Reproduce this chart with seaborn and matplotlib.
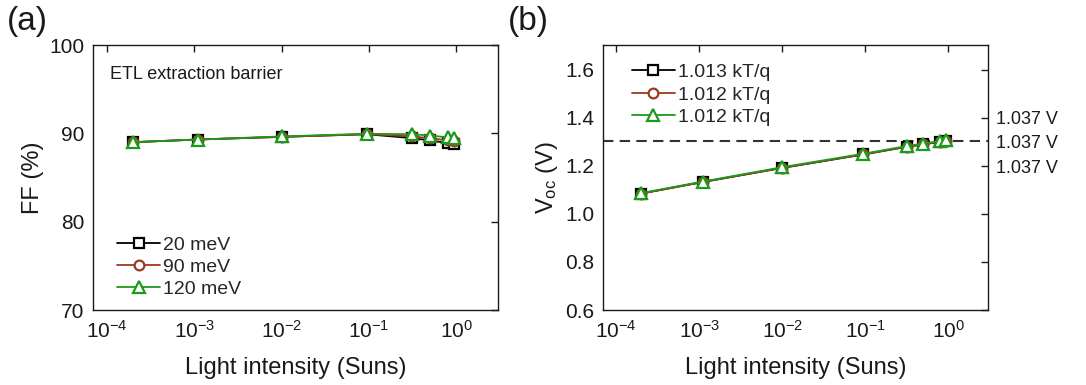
import numpy as np
import pandas as pd
import matplotlib
matplotlib.use("Agg")
import matplotlib.pyplot as plt
import seaborn as sns

sns.set_theme(style="white")
plt.rcParams['font.family'] = ['Liberation Sans', 'DejaVu Sans']
plt.rcParams['mathtext.fontset'] = 'custom'
plt.rcParams['mathtext.rm'] = 'Liberation Sans'
plt.rcParams['mathtext.it'] = 'Liberation Sans'
plt.rcParams['axes.linewidth'] = 1.0

intensity = [2e-4, 1.1e-3, 1e-2, 0.095, 0.316, 0.5, 0.8, 0.95]

ff_20 = [89.0, 89.3, 89.6, 89.9, 89.45, 89.2, 88.9, 88.75]
ff_90 = [89.0, 89.3, 89.6, 89.9, 89.65, 89.45, 89.2, 89.1]
ff_120 = [89.0, 89.3, 89.65, 89.95, 89.9, 89.75, 89.55, 89.5]

voc_20 = [1.085, 1.133, 1.192, 1.248, 1.280, 1.290, 1.301, 1.305]
voc_90 = [1.085, 1.133, 1.192, 1.248, 1.280, 1.290, 1.301, 1.305]
voc_120 = [1.087, 1.135, 1.195, 1.251, 1.283, 1.293, 1.304, 1.308]

ff_labels = ["20 meV", "90 meV", "120 meV"]
voc_labels = ["1.013 kT/q", "1.012 kT/q", "1.012 kT/q"]
voc_right_labels = ["1.037 V", "1.037 V", "1.037 V"]
voc_right_levels = [1.395, 1.295, 1.19]
dashed_level = 1.306

colors = ["#000000", "#9a3a1e", "#1c9a1c"]
markers = ["s", "o", "^"]
TXT = "#1a1a1a"

fig = plt.figure(figsize=(10.86, 3.85), dpi=100)
ax1 = fig.add_axes([0.0856, 0.1948, 0.373, 0.6883])
ax2 = fig.add_axes([0.5552, 0.1948, 0.3546, 0.6883])

for ax, series, labels in [(ax1, [ff_20, ff_90, ff_120], ff_labels),
                           (ax2, [voc_20, voc_90, voc_120], voc_labels)]:
    for ys, lab, c, m in zip(series, labels, colors, markers):
        sns.lineplot(x=intensity, y=ys, ax=ax, color=c, marker=m,
                     markersize=7 if m != "^" else 9, markerfacecolor="white",
                     markeredgecolor=c, markeredgewidth=1.6, linewidth=1.3,
                     label=lab)
    ax.set_xscale("log")
    ax.set_xlim(10**-4.16, 10**0.48)
    ax.set_xticks([1e-4, 1e-3, 1e-2, 1e-1, 1e0])
    ax.set_xticklabels([r"10$^{-4}$", r"10$^{-3}$", r"10$^{-2}$", r"10$^{-1}$", r"10$^{0}$"])
    ax.minorticks_off()
    ax.tick_params(direction="in", top=True, right=True, length=5, width=1,
                   labelsize=15, pad=6, colors=TXT)
    ax.tick_params(axis="x", pad=7)
    for s in ax.spines.values():
        s.set_color(TXT)
    ax.set_xlabel("Light intensity (Suns)", fontsize=17, labelpad=11, color=TXT)

ax1.set_ylim(70, 100)
ax1.set_yticks([70, 80, 90, 100])
ax1.set_ylabel("FF (%)", fontsize=17, labelpad=4, color=TXT)
ax1.text(0.042, 0.887, "ETL extraction barrier", transform=ax1.transAxes,
         fontsize=13, color=TXT, va="center")
ax1.legend(loc="lower left", bbox_to_anchor=(0.06, 0.045), frameon=False,
           fontsize=14, handlelength=2.2, handletextpad=0.15,
           labelspacing=0.22, borderaxespad=0, borderpad=0)

ax2.set_ylim(0.6, 1.704)
ax2.set_yticks([0.6, 0.8, 1.0, 1.2, 1.4, 1.6])
ax2.set_yticklabels(["0.6", "0.8", "1.0", "1.2", "1.4", "1.6"])
ax2.set_ylabel(r"V$_{\mathregular{oc}}$ (V)", fontsize=17, labelpad=4, color=TXT)
ax2.axhline(dashed_level, color="#333333", linestyle=(0, (5, 3)), linewidth=1.5, zorder=1)
ax2.legend(loc="upper left", bbox_to_anchor=(0.075, 0.93), frameon=False,
           fontsize=14, handlelength=2.2, handletextpad=0.15,
           labelspacing=0.25, borderaxespad=0, borderpad=0)
for yv, t in zip(voc_right_levels, voc_right_labels):
    ax2.text(1.02, yv, t, transform=ax2.get_yaxis_transform(), fontsize=13,
             va="center", ha="left", color=TXT)

fig.text(0.006, 0.985, "(a)", fontsize=24, va="top", ha="left", color=TXT)
fig.text(0.468, 0.985, "(b)", fontsize=24, va="top", ha="left", color=TXT)

fig.savefig("out.png", dpi=100)
